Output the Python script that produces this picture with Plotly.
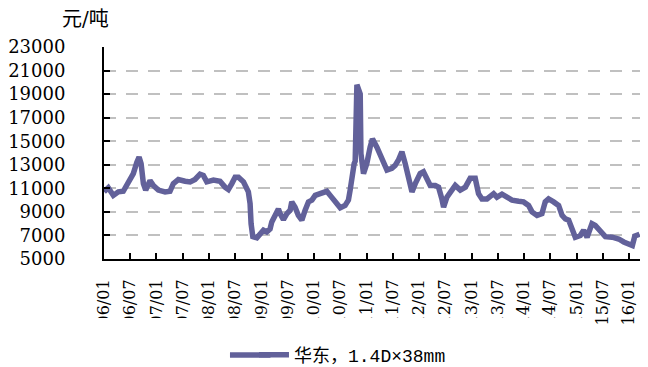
import plotly.graph_objects as go

# 华东 1.4D×38mm 涤纶短纤价格（元/吨），读自原图
dates = [
    "2006-01-01", "2006-01-31", "2006-03-07", "2006-04-11", "2006-05-15", "2006-06-08",
    "2006-07-01", "2006-07-24", "2006-08-17", "2006-09-02", "2006-09-16", "2006-10-02",
    "2006-10-18", "2006-11-17", "2006-12-10",
    "2007-01-14", "2007-03-02", "2007-04-05", "2007-04-28", "2007-06-02", "2007-07-19",
    "2007-08-23", "2007-09-26", "2007-10-31", "2007-11-23", "2007-12-17",
    "2008-02-01", "2008-03-18", "2008-04-22", "2008-05-15", "2008-06-08", "2008-07-01",
    "2008-07-24", "2008-08-28", "2008-10-01", "2008-10-13", "2008-10-20", "2008-11-01",
    "2008-11-29", "2008-12-22",
    "2009-01-14", "2009-02-06", "2009-03-01", "2009-03-13", "2009-04-05", "2009-04-28",
    "2009-05-10", "2009-06-02", "2009-06-26", "2009-07-19", "2009-07-30", "2009-08-22",
    "2009-09-14", "2009-10-08", "2009-10-31", "2009-11-23", "2009-12-17",
    "2010-01-09", "2010-02-12", "2010-03-31", "2010-04-23", "2010-05-28", "2010-07-02",
    "2010-08-05", "2010-08-28", "2010-09-09", "2010-09-21", "2010-10-07", "2010-10-14",
    "2010-10-26", "2010-11-18", "2010-11-23", "2010-12-11",
    "2011-01-03", "2011-01-26", "2011-02-11", "2011-03-14", "2011-04-18", "2011-05-23",
    "2011-06-26", "2011-07-19", "2011-08-11", "2011-09-04", "2011-09-27", "2011-10-20",
    "2011-11-13", "2011-12-06",
    "2012-01-09", "2012-02-01", "2012-02-25", "2012-03-19", "2012-04-23", "2012-05-16",
    "2012-06-08", "2012-06-20", "2012-07-13", "2012-08-17", "2012-09-09", "2012-10-14",
    "2012-11-18", "2012-12-22",
    "2013-01-26", "2013-02-18", "2013-03-14", "2013-04-18", "2013-06-03", "2013-06-26",
    "2013-07-31", "2013-09-04", "2013-10-09", "2013-11-24", "2013-12-28",
    "2014-02-01", "2014-02-25", "2014-04-01", "2014-05-05", "2014-05-28", "2014-06-20",
    "2014-07-25", "2014-08-29", "2014-09-22", "2014-10-15", "2014-11-07", "2014-11-30",
    "2014-12-23",
    "2015-01-27", "2015-02-19", "2015-03-15", "2015-04-18", "2015-05-11", "2015-06-15",
    "2015-07-20", "2015-09-05", "2015-10-21", "2015-11-25", "2015-12-30",
    "2016-01-24", "2016-02-10", "2016-03-14",
]

prices = [
    10700, 11050, 10400, 10700, 10750, 11250,
    11800, 12250, 13200, 13650, 13100, 11400,
    10850, 11650, 11250,
    10850, 10700, 10750, 11400, 11750, 11600,
    11550, 11750, 12200, 12100, 11550,
    11700, 11600, 11100, 10900, 11400, 11950,
    11950, 11550, 10700, 9700, 8000, 6900,
    6800, 7150,
    7450, 7300, 7550, 8150, 8700, 9250,
    8850, 8350, 8850, 9150, 9850, 9400,
    8700, 8300, 9150, 9850, 10000,
    10400, 10550, 10750, 10400, 9850, 9350,
    9550, 10000, 10850, 12250, 13100, 13300,
    19800, 19000, 13950, 12250,
    13100, 14500, 15200, 14500, 13400, 12550,
    12700, 12950, 13400, 14100, 13100, 11950,
    10700, 11400,
    12250, 12400, 11700, 11250, 11250, 11100,
    10100, 9400, 10250, 10850, 11250, 10850,
    11100, 11850,
    11850, 10550, 10100, 10100, 10550, 10250,
    10500, 10250, 10000, 9900, 9850,
    9550, 9000, 8700, 8850, 9850, 10100,
    9850, 9550, 8700, 8400, 8300, 7700,
    6850,
    7000, 7450, 6850, 8000, 7850, 7300,
    6900, 6850, 6700, 6450, 6250,
    6150, 6950, 7100,
]

tick_dates = [f"{y}-{m:02d}-01" for y in range(2006, 2017) for m in (1, 7)][:-1]
tick_labels = [
    "06/01", "06/07", "07/01", "07/07", "08/01", "08/07", "09/01", "09/07",
    "10/01", "10/07", "11/01", "11/07", "12/01", "12/07", "13/01", "13/07",
    "14/01", "14/07", "15/01", "15/07", "16/01",
]

line_color = "#62619A"
serif = "DejaVu Serif, Noto Sans CJK SC, serif"

fig = go.Figure()

fig.add_trace(
    go.Scatter(
        x=dates,
        y=prices,
        mode="lines",
        name="华东，1.4D×38mm",
        line=dict(color=line_color, width=5.5),
    )
)

# 原图中横轴标签下半截被裁掉（最后两个除外），用白块遮住
fig.add_shape(
    type="rect",
    xref="paper",
    yref="paper",
    x0=-0.2,
    x1=0.905,
    y0=-0.385,
    y1=-0.278,
    fillcolor="white",
    line=dict(width=0),
    layer="above",
)

# 图例线段在原图中更长，向左补一段
fig.add_shape(
    type="line",
    xref="paper",
    yref="paper",
    x0=0.2346,
    x1=0.31,
    y0=-0.453,
    y1=-0.453,
    line=dict(color=line_color, width=5.5),
    layer="above",
)

fig.update_layout(
    # 页面 body 自带 8px 边距，图整体缩小 8px
    width=640,
    height=359,
    margin=dict(l=96, r=7, t=39, b=108, autoexpand=False),
    paper_bgcolor="white",
    plot_bgcolor="white",
    font=dict(family=serif, size=18, color="black"),
    showlegend=True,
    legend=dict(
        orientation="h",
        x=0.2793,
        xanchor="left",
        y=-0.453,
        yanchor="middle",
        bgcolor="rgba(0,0,0,0)",
        font=dict(family="Liberation Mono, Noto Sans CJK SC, monospace", size=18),
    ),
    xaxis=dict(
        type="date",
        range=["2006-01-01", "2016-03-24"],
        tickvals=tick_dates,
        ticktext=tick_labels,
        tickangle=-90,
        tickfont=dict(size=16),
        ticks="inside",
        ticklen=6,
        tickwidth=2,
        tickcolor="black",
        showline=True,
        linecolor="black",
        linewidth=2,
        showgrid=False,
        zeroline=False,
        ticklabelstandoff=12,
    ),
    yaxis=dict(
        range=[5000, 23000],
        tickvals=list(range(5000, 23001, 2000)),
        tickformat="d",
        ticks="inside",
        ticklen=6,
        tickwidth=2,
        tickcolor="black",
        showline=True,
        linecolor="black",
        linewidth=2,
        showgrid=True,
        gridcolor="#C0C0C0",
        gridwidth=2,
        griddash="12px,10px",
        zeroline=False,
        ticklabelstandoff=33,
    ),
    annotations=[
        dict(
            text="元/吨",
            xref="paper",
            yref="paper",
            x=-0.034,
            y=1.132,
            xanchor="center",
            yanchor="middle",
            showarrow=False,
            font=dict(size=20),
        )
    ],
)

fig.write_html("out.html")
